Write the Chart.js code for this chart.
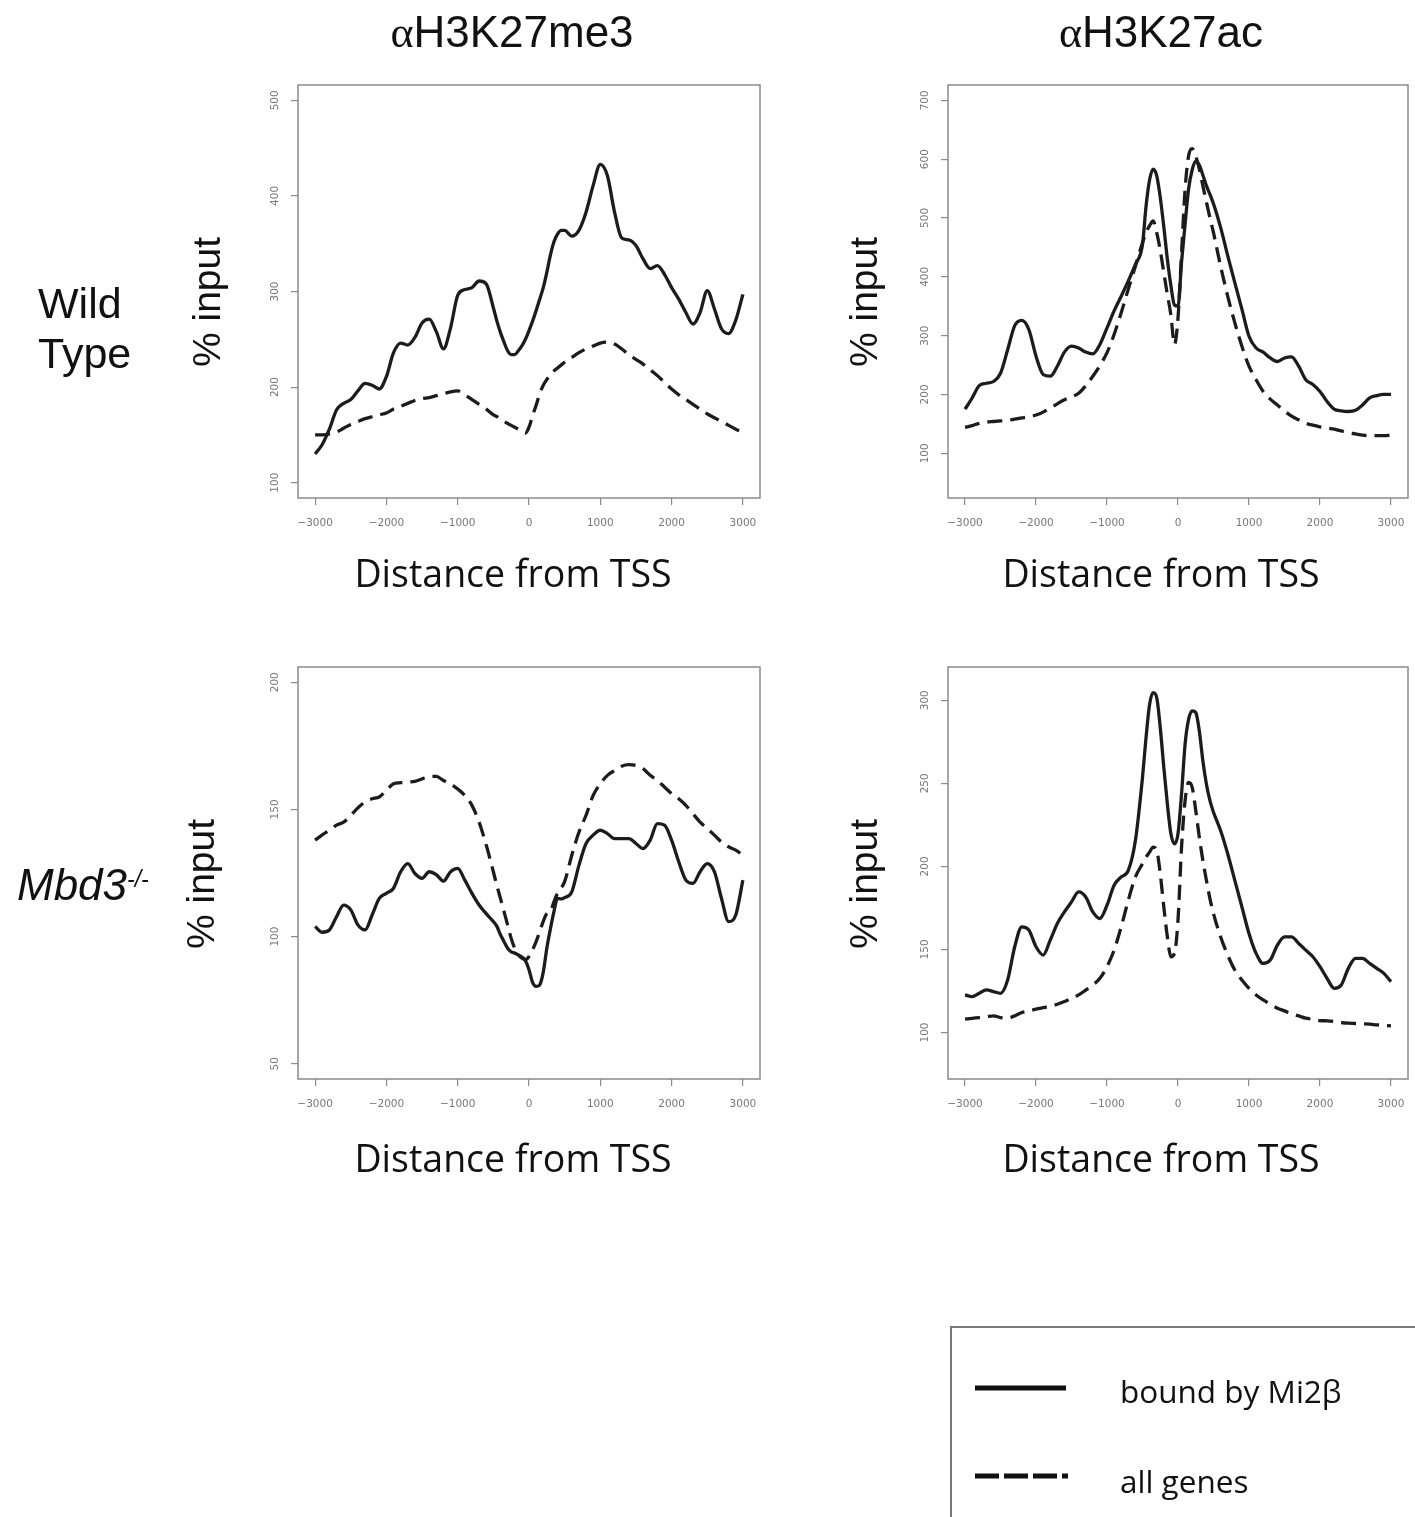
<!DOCTYPE html>
<html>
<head>
<meta charset="utf-8">
<title>H3K27 profiles around TSS</title>
<script src="https://cdn.jsdelivr.net/npm/chart.js@4.4.1/dist/chart.umd.min.js"></script>
<style>
  html, body { margin: 0; padding: 0; background: #fff; }
  body { width: 1415px; height: 1517px; position: relative; overflow: hidden; }
  canvas.panel { position: absolute; }
  svg#labels { position: absolute; left: 0; top: 0; pointer-events: none; }
</style>
</head>
<body>

<canvas id="wtMe3" class="panel" width="530" height="466" style="left:238px;top:77px"></canvas>
<canvas id="wtAc"  class="panel" width="528" height="466" style="left:888px;top:77px"></canvas>
<canvas id="koMe3" class="panel" width="530" height="465" style="left:238px;top:659px"></canvas>
<canvas id="koAc"  class="panel" width="528" height="465" style="left:888px;top:659px"></canvas>

<svg id="labels" width="1415" height="1517" xmlns="http://www.w3.org/2000/svg">
  <g font-family="Liberation Sans, Arial, sans-serif" fill="#111">
    <text x="512" y="47" font-size="44" text-anchor="middle"><tspan font-family="Liberation Serif, serif">α</tspan>H3K27me3</text>
    <text x="1161" y="47" font-size="44" text-anchor="middle"><tspan font-family="Liberation Serif, serif">α</tspan>H3K27ac</text>

    <text x="38" y="318" font-size="43">Wild</text>
    <text x="38" y="368" font-size="43">Type</text>
    <text x="17" y="900" font-size="44" font-style="italic">Mbd3</text>
    <text x="127" y="887" font-size="23" font-style="italic">-/-</text>

    <text transform="translate(220,302) rotate(-90)" font-size="39" text-anchor="middle">% input</text>
    <text transform="translate(877,302) rotate(-90)" font-size="39" text-anchor="middle">% input</text>
    <text transform="translate(214,884) rotate(-90)" font-size="39" text-anchor="middle">% input</text>
    <text transform="translate(877,884) rotate(-90)" font-size="39" text-anchor="middle">% input</text>
  </g>
  <g font-family="Open Sans, sans-serif" fill="#111" font-size="37.5" text-anchor="middle">
    <text x="513" y="587">Distance from TSS</text>
    <text x="1161" y="587">Distance from TSS</text>
    <text x="513" y="1172">Distance from TSS</text>
    <text x="1161" y="1172">Distance from TSS</text>
  </g>

  <!-- legend box -->
  <rect x="951" y="1327" width="600" height="300" fill="none" stroke="#777" stroke-width="2"/>
  <line x1="975" y1="1388" x2="1066" y2="1388" stroke="#111" stroke-width="5"/>
  <line x1="975" y1="1476" x2="1068" y2="1476" stroke="#111" stroke-width="5" stroke-dasharray="24 5"/>
  <g font-family="Open Sans, sans-serif" fill="#111" font-size="31.5">
    <text x="1120" y="1403">bound by Mi2β</text>
    <text x="1120" y="1493">all genes</text>
  </g>
</svg>

<script>
// distance from TSS (bp) – finer steps around the TSS
const distance = [
  -3000, -2900, -2800, -2700, -2600, -2500, -2400, -2300, -2200, -2100, -2000, -1900, -1800,
  -1700, -1600, -1500, -1400, -1300, -1200, -1100, -1000, -900, -800, -700, -600,
  -500, -450, -400, -350, -300, -250, -200, -150, -100, -50, 0, 50, 100, 150, 200, 250,
  300, 350, 400, 450, 500,
  600, 700, 800, 900, 1000, 1100, 1200, 1300, 1400, 1500, 1600, 1700, 1800,
  1900, 2000, 2100, 2200, 2300, 2400, 2500, 2600, 2700, 2800, 2900, 3000
];

const distTicks = [-3000, -2000, -1000, 0, 1000, 2000, 3000];

// wild type, H3K27me3
const wtMe3Bound = [
  130, 140, 156, 176, 183, 187, 196, 204, 202, 198, 211, 236, 246,
  244, 252, 267, 271, 258, 240, 262, 296, 302, 304, 311, 308,
  283, 269, 257, 247, 238, 234, 234, 238, 243, 250, 259, 269, 280, 292, 304, 320,
  338, 352, 360, 364, 364,
  358, 364, 383, 411, 433, 421, 383, 356, 354, 348, 334, 324, 327,
  318, 304, 292, 278, 266, 278, 301, 282, 261, 256, 270, 297
];
const wtMe3All = [
  150, 150, 151, 153, 157, 161, 164, 167, 169, 171, 173, 177, 180,
  183, 186, 188, 189, 191, 193, 195, 196, 192, 187, 182, 177,
  171, 169, 166, 164, 162, 160, 158, 156, 154, 152, 158, 170, 181, 193, 202, 208,
  213, 217, 220, 223, 226,
  231, 236, 240, 243, 246, 247, 245, 240, 234, 229, 224, 218, 212,
  205, 198, 192, 187, 182, 177, 172, 168, 164, 160, 156, 153
];
const wtMe3Ticks = [100, 200, 300, 400, 500];

// wild type, H3K27ac
const wtAcBound = [
  175, 194, 215, 219, 222, 236, 276, 317, 326, 310, 265, 234, 231,
  248, 272, 282, 279, 272, 269, 285, 313, 342, 367, 393, 421,
  455, 520, 565, 583, 572, 535, 485, 430, 385, 352, 350, 425, 490, 550, 582, 596,
  590, 573, 555, 540, 524,
  484, 436, 390, 345, 299, 279, 272, 262, 256, 262, 264, 248, 225,
  217, 205, 188, 175, 172, 171, 173, 182, 194, 198, 200, 200
];
const wtAcAll = [
  144, 147, 151, 153, 154, 155, 156, 158, 160, 162, 165, 170, 177,
  184, 191, 196, 202, 215, 231, 249, 271, 302, 339, 379, 418,
  458, 475, 487, 495, 475, 445, 407, 370, 335, 285, 330, 440, 549, 606, 618, 605,
  583, 555, 527, 500, 475,
  418, 367, 322, 282, 248, 225, 205, 192, 182, 172, 163, 157, 151,
  148, 145, 143, 141, 138, 135, 133, 131, 130, 130, 130, 131
];
const wtAcTicks = [100, 200, 300, 400, 500, 600, 700];

// Mbd3-/-, H3K27me3
const koMe3Bound = [
  104, 101.7, 102.6, 107.8, 112.4, 110.5, 104.6, 102.6, 108.5, 115, 117, 119, 125.5,
  128.7, 124.8, 122.9, 125.5, 124.4, 121.8, 125.5, 126.8, 122.2, 117, 112.4, 109,
  105.9, 104, 100.7, 98, 95.4, 94, 93.5, 92.8, 92, 90.5, 87, 82, 80.4, 81, 86, 95.4,
  103, 109.8, 115, 114.8, 115.3,
  117.6, 128, 136.6, 139.9, 141.8, 140.5, 138.5, 138.5, 138.5, 136.6, 134.6, 137.9, 144.4,
  143.8, 137.9, 129.4, 122.2, 120.9, 125.5, 128.7, 125.5, 115, 105.9, 108.5, 122.2
];
const koMe3All = [
  137.9, 140, 141.8, 143.8, 145, 147.7, 150.6, 153, 154.2, 154.9, 157.5, 160.1, 160.5,
  160.8, 161, 162, 163, 163, 161.4, 160, 158, 155.5, 151.6, 145, 136,
  125.5, 120, 115, 109.8, 104.6, 99.3, 95.4, 92.8, 91.5, 90.9, 92.2, 94.8, 98, 102, 106, 109,
  109.8, 113.7, 117, 119, 121.6,
  132, 141, 147.7, 155.5, 160.1, 163.4, 165.3, 167, 167.6, 167.3, 166, 163.4, 161.4,
  158.8, 156.2, 154.2, 151.6, 148.3, 145, 142.5, 139.9, 137.2, 135.3, 134, 132
];
const koMe3Ticks = [50, 100, 150, 200];

// Mbd3-/-, H3K27ac
const koAcBound = [
  122.6, 121.6, 123.6, 125.6, 124.6, 123.6, 131.6, 151.6, 163.6, 161.6, 151.6, 146.6, 155.6,
  165.6, 172.6, 178.6, 184.6, 181.6, 172.6, 168.6, 176.6, 188.6, 193.6, 197.6, 215.6,
  253.6, 277.6, 297.6, 304.6, 301.6, 283.6, 259.6, 237.6, 219.6, 213.6, 219.6, 243.6, 273.6, 288.6, 293.6, 292.6,
  281.6, 263.6, 249.6, 239.6, 232.6,
  221.6, 207.6, 191.6, 175.6, 159.6, 147.6, 141.6, 143.6, 152.6, 157.6, 157.6, 153.6, 149.6,
  145.6, 139.6, 132.6, 126.6, 128.6, 138.6, 144.6, 144.6, 141.6, 138.6, 135.6, 130.6
];
const koAcAll = [
  108, 108.5, 109, 109.5, 110, 109, 108.6, 110, 112, 113, 114, 115, 115.6,
  117, 118.6, 120.5, 122.6, 125.5, 128.6, 132.6, 139.6, 149.6, 163.6, 179.6, 193.6,
  201.6, 205.6, 208.6, 211.6, 209.6, 195.6, 175.6, 157.6, 145.6, 147.6, 167.6, 211.6, 239.6, 250.6, 247.6, 233.6,
  217.6, 203.6, 191.6, 180.6, 171.6,
  157.6, 146.6, 137.6, 131.6, 126.6, 122.6, 119.6, 117, 114.6, 113, 111.2, 110, 108.6,
  108, 107.2, 107, 106.6, 106, 105.6, 105.4, 105.2, 105, 104.6, 104.3, 104
];
const koAcTicks = [100, 150, 200, 250, 300];

const INK = "#1c1c1c";
const AXIS_GREY = "#8a8a8a";
const TICK_FONT = { family: "DejaVu Sans", size: 10.5 };

const pts = (ys) => distance.map((x, i) => ({ x: x, y: ys[i] }));
const minus = (v) => (v < 0 ? "\u2212" + Math.abs(v) : String(v));

// plain grey box around the plotting region
const frameBox = {
  id: "frameBox",
  beforeDatasetsDraw(chart) {
    const a = chart.chartArea, ctx = chart.ctx;
    ctx.save();
    ctx.strokeStyle = AXIS_GREY;
    ctx.lineWidth = 1.5;
    ctx.strokeRect(a.left, a.top, a.right - a.left, a.bottom - a.top);
    ctx.restore();
  }
};

function panel(id, bound, all, yMin, yMax, yTicks) {
  new Chart(document.getElementById(id), {
    type: "line",
    data: {
      datasets: [
        { label: "bound by Mi2β", data: pts(bound), borderColor: INK, borderWidth: 3.3,
          pointRadius: 0, cubicInterpolationMode: "monotone" },
        { label: "all genes", data: pts(all), borderColor: INK, borderWidth: 3.3,
          borderDash: [15, 8], pointRadius: 0, cubicInterpolationMode: "monotone" }
      ]
    },
    options: {
      responsive: false,
      animation: false,
      events: [],
      layout: { padding: { top: 8, right: 8, left: 0, bottom: 0 } },
      plugins: { legend: { display: false }, tooltip: { enabled: false } },
      scales: {
        x: {
          type: "linear", min: -3240, max: 3240,
          border: { display: false },
          grid: { drawOnChartArea: false, drawTicks: true, tickLength: 7, color: AXIS_GREY, lineWidth: 1.2 },
          ticks: { color: "#777", font: TICK_FONT, padding: 12, maxRotation: 0, autoSkip: false, callback: minus },
          afterBuildTicks: (s) => { s.ticks = distTicks.map((v) => ({ value: v })); },
          afterFit: (s) => { s.height = 45; s.paddingLeft = 0; s.paddingRight = 0; }
        },
        y: {
          min: yMin, max: yMax,
          border: { display: false },
          grid: { drawOnChartArea: false, drawTicks: true, tickLength: 7, color: AXIS_GREY, lineWidth: 1.2 },
          ticks: { color: "#777", font: TICK_FONT, padding: 6, minRotation: 90, maxRotation: 90,
                   crossAlign: "center", autoSkip: false, callback: minus },
          afterBuildTicks: (s) => { s.ticks = yTicks.map((v) => ({ value: v })); },
          afterFit: (s) => { s.width = 60; s.paddingTop = 0; s.paddingBottom = 0; }
        }
      }
    },
    plugins: [frameBox]
  });
}

panel("wtMe3", wtMe3Bound, wtMe3All, 84, 516, wtMe3Ticks);
panel("wtAc",  wtAcBound,  wtAcAll,  24, 726, wtAcTicks);
panel("koMe3", koMe3Bound, koMe3All, 44, 206, koMe3Ticks);
panel("koAc",  koAcBound,  koAcAll,  72, 320, koAcTicks);
</script>
</body>
</html>
